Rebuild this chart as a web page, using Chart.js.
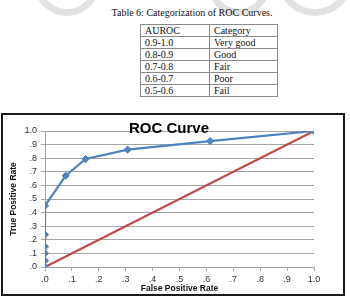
<!DOCTYPE html>
<html>
<head>
<meta charset="utf-8">
<script src="https://cdn.jsdelivr.net/npm/chart.js@4.4.0/dist/chart.umd.min.js"></script>
<style>
  html,body{margin:0;padding:0;background:#fff;width:350px;height:300px;overflow:hidden;position:relative;}
  .ring{position:absolute;border-radius:50%;border:7px solid #e2e2e2;box-sizing:border-box;}
  #cap{position:absolute;left:0;width:384px;top:7px;text-align:center;font:10px 'Liberation Serif','Times New Roman',serif;color:#111;white-space:nowrap;}
  table{position:absolute;left:140px;top:24px;border-collapse:collapse;font:10px 'Liberation Serif','Times New Roman',serif;color:#111;}
  td{border:1px solid #8a8a8a;height:11px;line-height:11px;padding:0 0 0 4px;white-space:nowrap;}
  td.a{width:64px;} td.b{width:63px;}
  #frame{position:absolute;left:1px;top:113px;width:344px;height:183px;border:2px solid #1a1a1a;box-sizing:border-box;}
  #wrap{position:absolute;left:0;top:0;width:340px;height:179px;}
</style>
</head>
<body>
<div class="ring" style="left:34px;top:-50px;width:66px;height:66px;"></div>
<div class="ring" style="left:208px;top:-46px;width:62px;height:62px;"></div>
<div class="ring" style="left:277px;top:-60px;width:76px;height:76px;"></div>
<div id="cap">Table 6: Categorization of ROC Curves.</div>
<table id="tbl"></table>
<div id="frame"><div id="wrap"><canvas id="c" width="340" height="179"></canvas></div></div>
<script>
const tableHeader = ["AUROC", "Category"];
const aurocRanges = ["0.9-1.0", "0.8-0.9", "0.7-0.8", "0.6-0.7", "0.5-0.6"];
const aurocCategories = ["Very good", "Good", "Fair", "Poor", "Fail"];

const fprValues = [0, 0, 0, 0, 0, 0, 0.077, 0.151, 0.307, 0.614, 1.0];
const tprValues = [0, 0.046, 0.10, 0.149, 0.238, 0.45, 0.671, 0.794, 0.863, 0.926, 1.0];
const diagX = [0, 1];
const diagY = [0, 1];
const chartTitle = "ROC Curve";
const xTitle = "False Positive Rate";
const yTitle = "True Positive Rate";

const tbl = document.getElementById('tbl');
function addRow(a, b){
  const tr = document.createElement('tr');
  tr.innerHTML = '<td class="a">' + a + '</td><td class="b">' + b + '</td>';
  tbl.appendChild(tr);
}
addRow(tableHeader[0], tableHeader[1]);
aurocRanges.forEach((r, i) => addRow(r, aurocCategories[i]));

const fmt = v => (Math.abs(v - 1) < 1e-9 ? '1.0' : '.' + Math.round(v * 10));

const titlePlugin = {
  id: 'excelTitle',
  afterDraw(chart){
    const ctx = chart.ctx;
    ctx.save();
    ctx.font = "bold 15px 'Liberation Sans', Arial, sans-serif";
    ctx.fillStyle = '#000';
    ctx.textAlign = 'center';
    ctx.textBaseline = 'middle';
    ctx.fillText(chartTitle, 166, 14);
    ctx.restore();
  }
};

const tickFont = { family: "'Liberation Sans', Arial, sans-serif", size: 9, lineHeight: 1.1 };
const titleFont = { family: "'Liberation Sans', Arial, sans-serif", size: 8.5, weight: 'bold', lineHeight: 1 };

new Chart(document.getElementById('c'), {
  type: 'scatter',
  data: {
    datasets: [
      {
        label: 'ROC',
        data: fprValues.map((x, i) => ({ x: x, y: tprValues[i] })),
        showLine: true,
        borderColor: '#4f81bd',
        backgroundColor: '#4f81bd',
        borderWidth: 2.2,
        pointStyle: 'rectRot',
        pointRadius: 3.6,
        pointBorderWidth: 1,
        tension: 0
      },
      {
        label: 'Diagonal',
        data: diagX.map((x, i) => ({ x: x, y: diagY[i] })),
        showLine: true,
        borderColor: '#be4b48',
        backgroundColor: '#be4b48',
        borderWidth: 2.2,
        pointRadius: 0,
        order: 2
      }
    ]
  },
  options: {
    responsive: false,
    animation: false,
    devicePixelRatio: 1,
    layout: { autoPadding: false, padding: { left: 0, right: 29, top: 16, bottom: 0 } },
    plugins: { legend: { display: false }, tooltip: { enabled: false }, title: { display: false } },
    scales: {
      x: {
        type: 'linear', min: 0, max: 1,
        afterFit(s){ s.height = 27; },
        ticks: { stepSize: 0.1, callback: fmt, font: tickFont, color: '#333', padding: 4, maxRotation: 0, autoSkip: false },
        grid: { drawOnChartArea: false, drawTicks: true, tickLength: 4, color: '#a6a6a6' },
        border: { color: '#a6a6a6' },
        title: { display: true, text: xTitle, font: titleFont, color: '#111', padding: { top: 0, bottom: 1 } }
      },
      y: {
        type: 'linear', min: 0, max: 1,
        afterFit(s){ s.width = 42; },
        ticks: { stepSize: 0.1, callback: fmt, font: tickFont, color: '#333', padding: 4, autoSkip: false },
        grid: { color: '#a6a6a6', tickLength: 4 },
        border: { color: '#a6a6a6' },
        title: { display: true, text: yTitle, font: titleFont, color: '#111', padding: { top: 6, bottom: 0 } }
      }
    }
  },
  plugins: [titlePlugin]
});
</script>
</body>
</html>
